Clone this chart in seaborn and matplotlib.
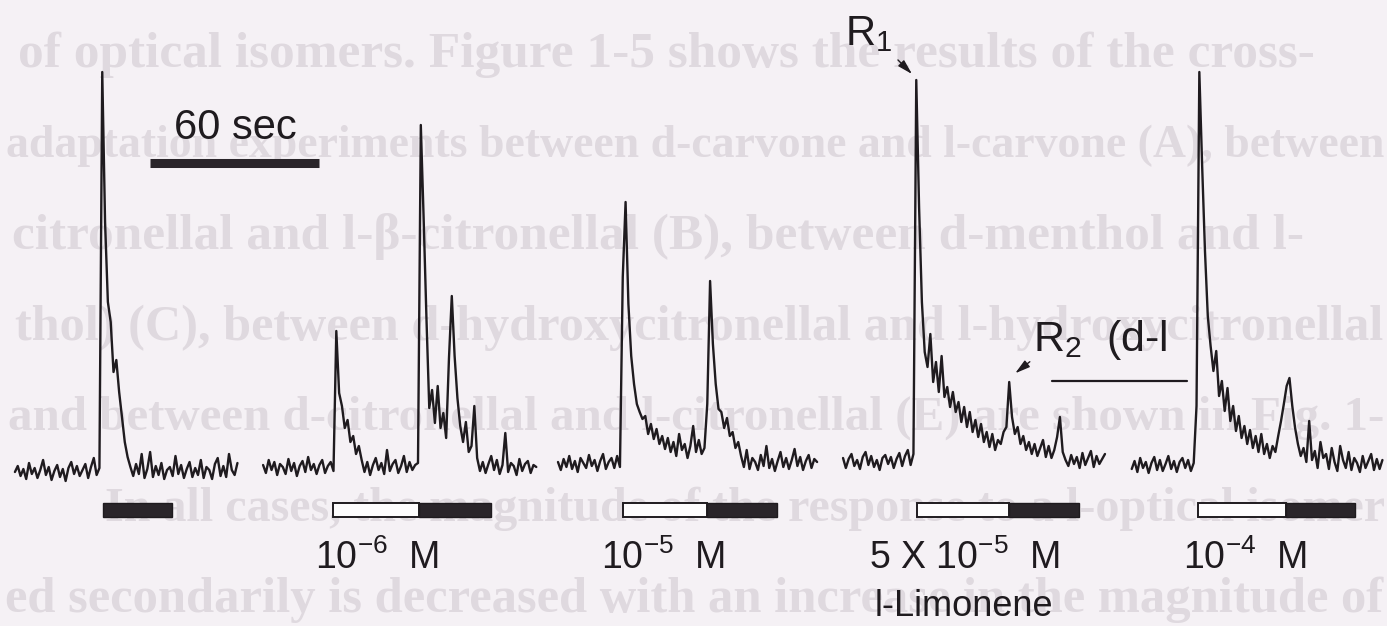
import numpy as np
import pandas as pd
import matplotlib
matplotlib.use('Agg')
import matplotlib.pyplot as plt
from matplotlib.patches import Rectangle
import seaborn as sns

# Antworten (willkuerliche Einheiten, Basislinie = 0), ein Wert pro Sekunde
trace_start_s = [5.3, 93.4, 198.1, 299.3, 401.8]

resp_1 = [0, 6, -4, 3, -7, 9, -2, 4, -6, 2, 12, -3, 5, -8, 1, 7, -5, 3, -9, 4,
          10, -2, 6, -4, 2, 8, -6, 5, 14, -3, 4,
          400, 250, 170, 150, 100, 112, 80, 55, 30, 15, 5,
          -4, 8, -2, 18, -6, 3, 20, -5, 6, -3, 9, -7, 2, 5, -4, 16, -2, 7, -6, 3,
          10, -5, 4, -3, 12, -6, 5, 2, -7, 8, 14, -4, 6, -5, 18, 2, -3, 9]

resp_2 = [3, -5, 8, -2, 6, -7, 4, 1, -6, 9, -3, 5, -8, 2, 7, -4, 11, -2, 4, -6,
          3, 8, -5, 2, 6, -3,
          137, 75, 62, 40, 48, 26, 32, 14, 22, 8,
          -4, 6, -7, 3, 10, -2, 5, -6, 18, -3, 4, 8, -5, 2, 12, -4, 6, -2, 3, 5,
          343, 250, 150, 60, 78, 45, 82, 40, 55, 30, 110, 172, 112, 70, 42, 26,
          46, 16, 22, 62, 10,
          -3, 6, -5, 4, 12, -2, 8, -6, 3, 35, -4, 5, 2, -7, 9, -3, 4, 7, -5, 3, 1]

resp_3 = [2, -6, 5, -3, 8, -5, 3, -8, 6, 1, -4, 9, -2, 4, -7, 3, 10, -5, 2, 6,
          -4, 8, -3,
          187, 262, 160, 108, 80, 60, 52, 45, 48, 30, 40, 25, 35, 20, 28,
          15, 26, 12, 22, 8, 30, 14, 20, 6, 18, 38, 12, 24, 10, 16,
          60, 183, 120, 80, 55, 52, 36, 46, 28, 32, 16, 22, 8,
          -3, 14, -5, 6, 2, -6, 9, -2, 18, -4, 5, -7, 3, 12, -3, 6, -5, 4, 15,
          -2, 7, -6, 3, 9, -4, 5, 2]

resp_4 = [4, -6, 3, 8, -4, 2, -7, 5, 10, -3, 6, -5, 2, -8, 4, 7, -2, 5, -6, 3,
          9, -4, 6, 12, -3, 8,
          382, 255, 160, 110, 95, 128, 80, 100, 70, 106, 65, 75, 55, 70, 50, 60,
          40, 55, 35, 50, 30, 42, 25, 38, 20, 30, 15, 28, 12, 22, 18, 30, 35, 80,
          45, 28, 35, 18, 26, 12, 20, 8, 18, 6, 14, 22, 5, 16, 4, 12, 25, 45, 10, 2,
          -4, 7, -2, 5, -6, 9, -3, 4, 11, -5, 6, -2, 3, 8]

resp_5 = [-3, 5, -6, 8, -2, 4, -7, 3, 9, -4, 6, -5, 2, 10, -3, 5, -6, 4, 8, -2,
          6, -5, 3,
          60, 394, 300, 215, 150, 120, 95, 115, 70, 85, 55, 78, 45, 60, 35, 50,
          28, 40, 22, 36, 18, 30, 14, 32, 12, 22, 8, 20, 14, 30, 45, 62, 80, 88,
          60, 38, 22, 10, 18, 4, 45, 6, 15, -2, 24, 8,
          12, -3, 18, 4, -5, 20, 6, -2, 14, -4, 8, 3, -6, 10, -2, 5, 12, -4, 7, -3, 6]

# Reizzeiten in Sekunden (offen = d-Isomer, schwarz = l-Limonen)
stim_open_on = [None, 118.2, 221.2, 325.5, 425.3]
stim_switch = [36.6, 148.7, 251.0, 358.2, 456.5]
stim_off = [61.1, 174.3, 275.8, 383.0, 481.0]

conc_labels = ['', r'10$^{-6}$  M', r'10$^{-5}$  M', r'5 X 10$^{-5}$  M', r'10$^{-4}$  M']
odorant = 'l-Limonene'
scale_bar_s = 60

# durchscheinender Text der Rueckseite
bleed_lines = [
    'of optical isomers. Figure 1-5 shows the results of the cross-',
    'adaptation experiments between d-carvone and l-carvone (A), between',
    'citronellal and l-\u03b2-citronellal (B), between d-menthol and l-',
    'thol) (C), between d-hydroxycitronellal and l-hydroxycitronellal',
    'and between d-citronellal and l-citronellal (E) are shown in Fig. 1-',
    'In all cases, the magnitude of the response to a l-optical isomer',
    'ed secondarily is decreased with an increase in the magnitude of',
]

# --- Layout (Pixel der Vorlage) ---
W, H = 1387, 626
PX_PER_S = 169 / 60
BASE_PX = 470
trace_shift = [-2, 2, 6, 8, 4]
INK = '#1f1b1f'
PAPER = '#f5f1f5'

sns.set_style('white')
plt.rcParams['font.family'] = ['Liberation Sans', 'DejaVu Sans']
plt.rcParams['mathtext.fontset'] = 'custom'
plt.rcParams['mathtext.rm'] = 'Liberation Sans'
plt.rcParams['mathtext.default'] = 'regular'


def px(x, y):
    """Pixel der Vorlage -> Datenkoordinaten"""
    return x / PX_PER_S, BASE_PX - y


fig = plt.figure(figsize=(W / 100, H / 100), dpi=100, facecolor=PAPER)
ax = fig.add_axes([0, 0, 1, 1])
ax.set_facecolor(PAPER)
ax.set_xlim(0, W / PX_PER_S)
ax.set_ylim(BASE_PX - H, BASE_PX)
ax.axis('off')

# Rueckseitentext: jede Zeile zwischen linkem Rand und rechter Kante einpassen
bleed_pos = [(18, 1362, 55), (6, 1382, 146), (12, 1382, 237), (15, 1382, 328),
             (8, 1382, 418), (105, 1382, 509), (5, 1382, 600)]
renderer = fig.canvas.get_renderer()
for line, (bx0, bx1, by) in zip(bleed_lines, bleed_pos):
    tx, ty = px(bx0, by)
    t = ax.text(tx, ty, line, ha='left', va='center', fontsize=37, fontweight='bold',
                family='Liberation Serif', color='#dfd9df', zorder=0)
    width = t.get_window_extent(renderer).width
    if width > (bx1 - bx0):
        t.set_fontsize(37 * (bx1 - bx0) / width)

# Spuren
frames = []
for i, (t0, resp) in enumerate(zip(trace_start_s, [resp_1, resp_2, resp_3, resp_4, resp_5])):
    frames.append(pd.DataFrame({
        'time_s': t0 + np.arange(len(resp)),
        'response': np.array(resp, dtype=float) + trace_shift[i],
        'trace': i,
    }))
df = pd.concat(frames, ignore_index=True)

sns.lineplot(data=df, x='time_s', y='response', units='trace', estimator=None,
             sort=False, color=INK, linewidth=1.7, legend=False, ax=ax, zorder=3)

# Reizbalken
_, y_top = px(0, 503)
_, y_bot = px(0, 517)
for on, sw, off in zip(stim_open_on, stim_switch, stim_off):
    if on is not None:
        ax.add_patch(Rectangle((on, y_bot), sw - on, y_top - y_bot, facecolor='#fdfcfd',
                               edgecolor=INK, linewidth=1.4, zorder=4))
    ax.add_patch(Rectangle((sw, y_bot), off - sw, y_top - y_bot, facecolor='#2a252a',
                           edgecolor=INK, linewidth=1.0, zorder=4))

# Konzentrationen
for lab, cx in zip(conc_labels, [0, 377, 663, 964, 1245]):
    if lab:
        tx, ty = px(cx, 558)
        ax.text(tx, ty, lab, ha='center', va='center', fontsize=27, color=INK, zorder=5)
tx, ty = px(964, 606)
ax.text(tx, ty, odorant, ha='center', va='center', fontsize=26, color=INK, zorder=5)

# 60-sec Massstab
x0, y0 = px(150, 163)
ax.plot([x0, x0 + scale_bar_s], [y0, y0], color='#2a252a', linewidth=6.5,
        solid_capstyle='butt', zorder=4)
tx, ty = px(235, 128)
ax.text(tx, ty, f'{scale_bar_s} sec', ha='center', va='center', fontsize=30, color=INK, zorder=5)

# R1 / R2 Markierungen
tx, ty = px(845, 34)
ax.text(tx, ty, r'R$_1$', ha='left', va='center', fontsize=30, color=INK, zorder=5)
ax.annotate('', xy=px(914, 76), xytext=px(896, 58),
            arrowprops=dict(arrowstyle='-|>,head_length=0.9,head_width=0.25',
                            color=INK, lw=1.0))
tx, ty = px(1033, 340)
ax.text(tx, ty, r'R$_2$  (d-l', ha='left', va='center', fontsize=31, color=INK, zorder=5)
ax.annotate('', xy=px(1013, 375), xytext=px(1032, 360),
            arrowprops=dict(arrowstyle='-|>,head_length=0.9,head_width=0.25',
                            color=INK, lw=1.0))
ux0, uy = px(1052, 381)
ux1, _ = px(1187, 381)
ax.plot([ux0, ux1], [uy, uy], color=INK, linewidth=1.6)

fig.savefig('out.png', dpi=100, facecolor=PAPER)
